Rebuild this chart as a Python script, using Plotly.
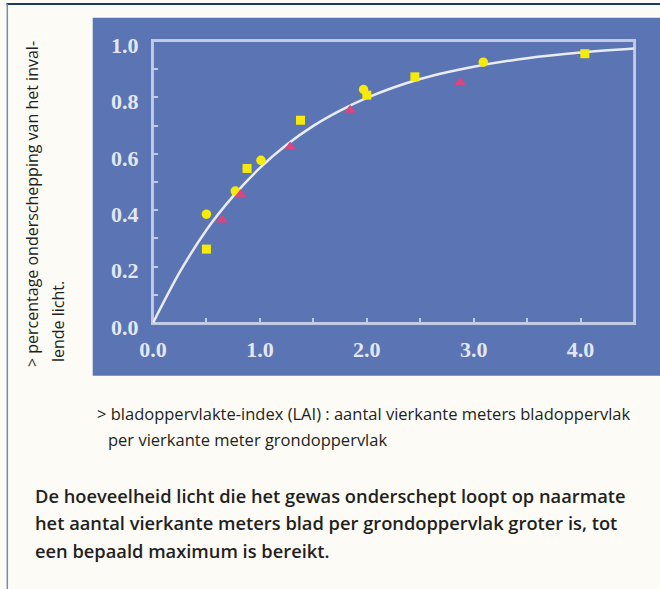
import plotly.graph_objects as go

# ---- data ----
circle_x = [0.50, 0.77, 1.01, 1.97, 3.09]
circle_y = [0.386, 0.468, 0.577, 0.828, 0.925]
square_x = [0.50, 0.88, 1.38, 2.00, 2.45, 4.04]
square_y = [0.262, 0.548, 0.719, 0.808, 0.873, 0.955]
tri_x = [0.645, 0.818, 1.283, 1.844, 2.875]
tri_y = [0.366, 0.456, 0.625, 0.755, 0.853]
curve_x = [0.0, 0.25, 0.5, 0.75, 1.0, 1.25, 1.5, 1.75, 2.0, 2.25, 2.5, 2.75, 3.0, 3.5, 4.0, 4.5]
curve_y = [0.0, 0.18, 0.33, 0.45, 0.55, 0.632, 0.699, 0.753, 0.798, 0.835, 0.865, 0.889, 0.909, 0.939, 0.959, 0.973]
x_tickvals = [0, 0.5, 1, 1.5, 2, 2.5, 3, 3.5, 4]
x_ticktext = ["0.0", "", "1.0", "", "2.0", "", "3.0", "", "4.0"]
y_tickvals = [0, 0.1, 0.2, 0.3, 0.4, 0.5, 0.6, 0.7, 0.8, 0.9, 1.0]
y_ticktext = ["0.0", "", "0.2", "", "0.4", "", "0.6", "", "0.8", "", "1.0"]

ylabel_lines = ["> percentage onderschepping van het inval-", "lende licht."]
xlabel_lines = ["> bladoppervlakte-index (LAI) : aantal vierkante meters bladoppervlak",
                "per vierkante meter grondoppervlak"]
caption_lines = ["De hoeveelheid licht die het gewas onderschept loopt op naarmate",
                 "het aantal vierkante meters blad per grondoppervlak groter is, tot",
                 "een bepaald maximum is bereikt."]

W, H = 660, 589
L, R, T, B = 153, 26, 41, 266
PW, PH = W - L - R, H - T - B


def px(xp):
    return (xp - L) / PW


def py(yp):
    return (H - B - yp) / PH


BG = "#fcfbf6"
PANEL = "#5a74b4"
FRAME = "#c3cbe4"
TXT = "#231f20"

fig = go.Figure()
fig.add_trace(go.Scatter(x=curve_x, y=curve_y, mode="lines",
                         line=dict(color="#e9ecf5", width=2.5, shape="spline", smoothing=0.8),
                         hoverinfo="skip"))
fig.add_trace(go.Scatter(x=circle_x, y=circle_y, mode="markers",
                         marker=dict(symbol="circle", size=9.5, color="#f6ea0a")))
fig.add_trace(go.Scatter(x=square_x, y=square_y, mode="markers",
                         marker=dict(symbol="square", size=9, color="#f6ea0a")))
fig.add_trace(go.Scatter(x=tri_x, y=tri_y, mode="markers",
                         marker=dict(symbol="triangle-up", size=10.5, color="#d8457f")))

tickfont = dict(family="Liberation Serif", size=22, color="#e4e7f1", weight="bold")
fig.update_xaxes(range=[0, 4.5], showgrid=False, zeroline=False, showline=True, mirror=True,
                 linecolor=FRAME, linewidth=2, ticks="inside", ticklen=5, tickwidth=1.5, tickcolor=FRAME,
                 tickmode="array", tickvals=x_tickvals, ticktext=x_ticktext, tickfont=tickfont,
                 ticklabelstandoff=6)
fig.update_yaxes(range=[0, 1], showgrid=False, zeroline=False, showline=True, mirror=True,
                 linecolor=FRAME, linewidth=2, ticks="inside", ticklen=5, tickwidth=1.5, tickcolor=FRAME,
                 tickmode="array", tickvals=y_tickvals, ticktext=y_ticktext, tickfont=tickfont,
                 ticklabelstandoff=8, ticklabelshift=4)

def rect(x0, x1, y0, y1):
    return dict(type="rect", xref="paper", yref="paper", x0=px(x0), x1=px(x1), y0=py(y1), y1=py(y0),
                fillcolor=BG, line=dict(width=0), layer="below")

shapes = [
    rect(-5, 665, -5, 17.7),      # top strip
    rect(-5, 92.7, -5, 595),      # left strip
    rect(-5, 665, 375.7, 595),    # bottom strip
    # plot frame tied to the axis domains
    dict(type="rect", xref="x domain", yref="y domain", x0=0, x1=1, y0=0, y1=1,
         line=dict(color=FRAME, width=1.8), fillcolor="rgba(0,0,0,0)", layer="below"),
    dict(type="line", xref="paper", yref="paper", x0=px(6.5), x1=px(662), y0=py(4), y1=py(4),
         line=dict(color="#1b3a6b", width=2)),
    dict(type="line", xref="paper", yref="paper", x0=px(7.3), x1=px(7.3), y0=py(4), y1=py(592),
         line=dict(color="#7a8aae", width=1.5)),
]

annotations = []
sans = "Open Sans"
annotations.append(dict(text=ylabel_lines[0], xref="paper", yref="paper", x=px(32), y=py(369),
                        xanchor="center", yanchor="bottom", textangle=-90, showarrow=False,
                        font=dict(family=sans, size=16, color=TXT)))
annotations.append(dict(text=ylabel_lines[1], xref="paper", yref="paper", x=px(57.5), y=py(364),
                        xanchor="center", yanchor="bottom", textangle=-90, showarrow=False,
                        font=dict(family=sans, size=16, color=TXT)))
for txt, xx, yy in zip(xlabel_lines, [95, 106], [413, 439]):
    annotations.append(dict(text=txt, xref="paper", yref="paper", x=px(xx), y=py(yy),
                            xanchor="left", yanchor="middle", showarrow=False,
                            font=dict(family=sans, size=16.5, color=TXT)))
for txt, yy in zip(caption_lines, [495, 522.5, 550]):
    annotations.append(dict(text=txt, xref="paper", yref="paper", x=px(33), y=py(yy),
                            xanchor="left", yanchor="middle", showarrow=False,
                            font=dict(family=sans, size=18.3, color=TXT, weight=600)))

fig.update_layout(width=W, height=H, margin=dict(l=L, r=R, t=T, b=B, autoexpand=False),
                  paper_bgcolor=PANEL, plot_bgcolor=PANEL, showlegend=False,
                  shapes=shapes, annotations=annotations)

fig.write_html("out.html", config={"displayModeBar": False},
               post_script="document.body.style.margin='0';")
